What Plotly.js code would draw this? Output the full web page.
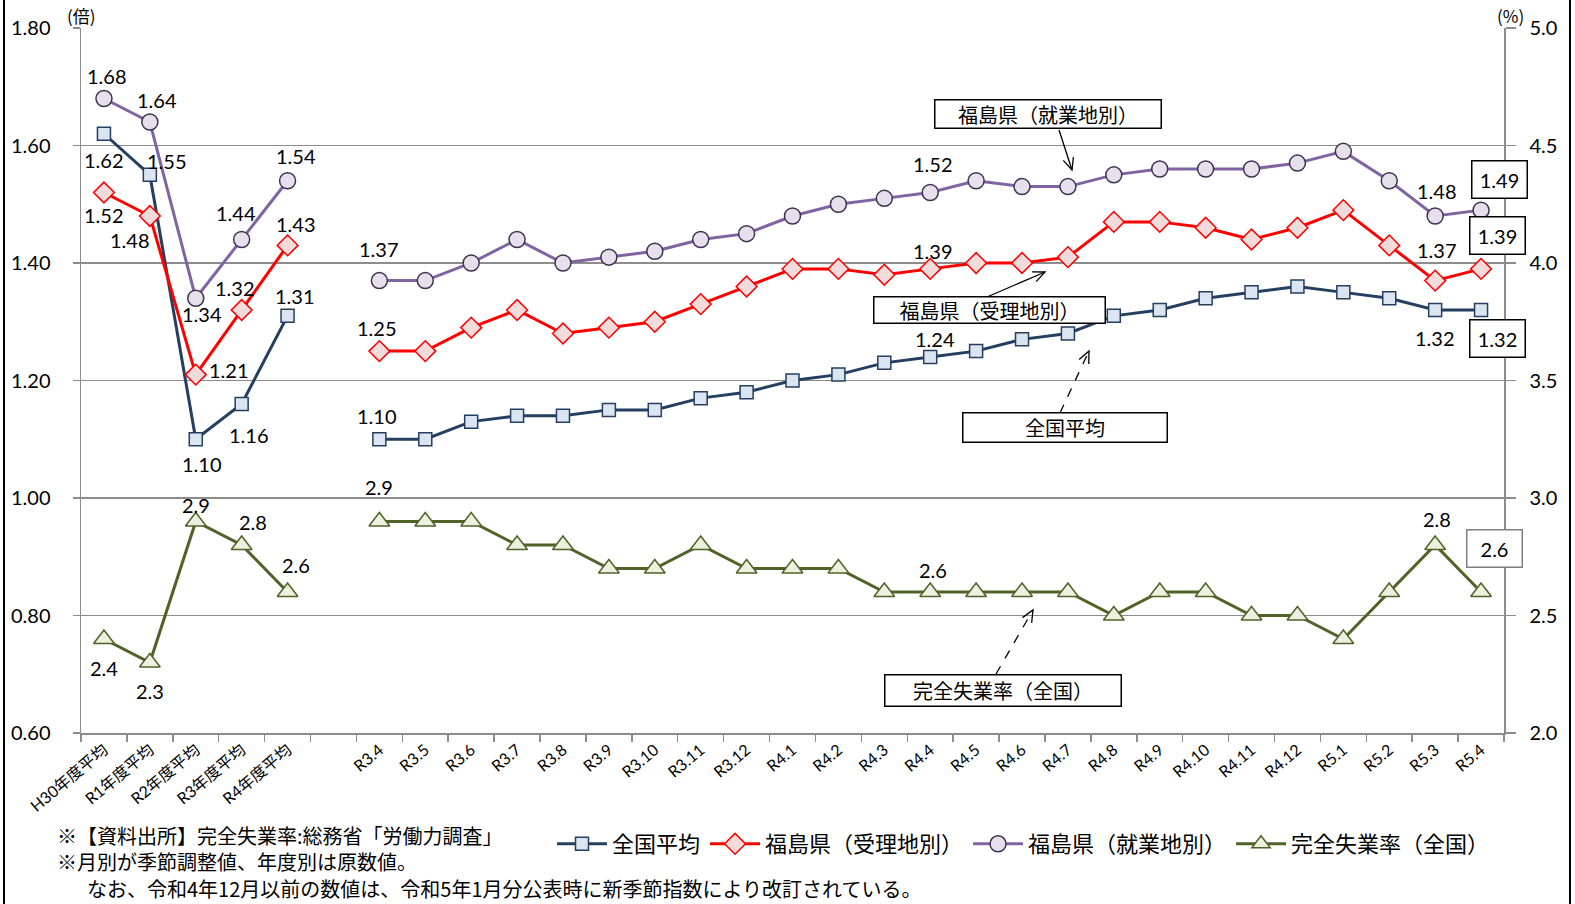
<!DOCTYPE html>
<html>
<head>
<meta charset="utf-8">
<script src="https://cdn.plot.ly/plotly-3.0.1.min.js"></script>
<style>html,body{margin:0;padding:0;background:#fff;}#chart{width:1575px;height:904px;}</style>
</head>
<body>
<div id="chart"></div>
<script>
// ---- data ----
const categories = ['H30年度平均','R1年度平均','R2年度平均','R3年度平均','R4年度平均',' ',
  'R3.4','R3.5','R3.6','R3.7','R3.8','R3.9','R3.10','R3.11','R3.12',
  'R4.1','R4.2','R4.3','R4.4','R4.5','R4.6','R4.7','R4.8','R4.9','R4.10','R4.11','R4.12',
  'R5.1','R5.2','R5.3','R5.4'];
const national = [1.62,1.55,1.10,1.16,1.31,null,
  1.10,1.10,1.13,1.14,1.14,1.15,1.15,1.17,1.18,
  1.20,1.21,1.23,1.24,1.25,1.27,1.28,1.31,1.32,1.34,1.35,1.36,
  1.35,1.34,1.32,1.32];
const fukuJuri = [1.52,1.48,1.21,1.32,1.43,null,
  1.25,1.25,1.29,1.32,1.28,1.29,1.30,1.33,1.36,
  1.39,1.39,1.38,1.39,1.40,1.40,1.41,1.47,1.47,1.46,1.44,1.46,
  1.49,1.43,1.37,1.39];
const fukuShugyo = [1.68,1.64,1.34,1.44,1.54,null,
  1.37,1.37,1.40,1.44,1.40,1.41,1.42,1.44,1.45,
  1.48,1.50,1.51,1.52,1.54,1.53,1.53,1.55,1.56,1.56,1.56,1.57,
  1.59,1.54,1.48,1.49];
const unemp = [2.4,2.3,2.9,2.8,2.6,null,
  2.9,2.9,2.9,2.8,2.8,2.7,2.7,2.8,2.7,
  2.7,2.7,2.6,2.6,2.6,2.6,2.6,2.5,2.6,2.6,2.5,2.5,
  2.4,2.6,2.8,2.6];
const seriesNames = ['全国平均','福島県（受理地別）','福島県（就業地別）','完全失業率（全国）'];

// ---- layout helpers ----
const W = 1575, H = 904, L = 81, R = 71, T = 28, B = 171;
const PW = W - L - R, PH = H - T - B;
const px = v => (v - L) / PW;
const py = v => (H - B - v) / PH;
const FONT = "Lato, 'Noto Sans CJK JP', sans-serif";
const JFONT = "'Noto Sans CJK JP', sans-serif";

const traces = [
  {name: seriesNames[0], x: categories, y: national, type: 'scatter', mode: 'lines+markers',
   line: {color: '#243f60', width: 3}, connectgaps: false,
   marker: {symbol: 'square', size: 13, color: '#dbe5f1', line: {color: '#243f60', width: 1.5}}},
  {name: seriesNames[1], x: categories, y: fukuJuri, type: 'scatter', mode: 'lines+markers',
   line: {color: '#ff0000', width: 3}, connectgaps: false,
   marker: {symbol: 'diamond', size: 16, color: '#f2dcdb', line: {color: '#ff0000', width: 1.5}}},
  {name: seriesNames[2], x: categories, y: fukuShugyo, type: 'scatter', mode: 'lines+markers',
   line: {color: '#8064a2', width: 3}, connectgaps: false,
   marker: {symbol: 'circle', size: 16, color: '#e5e0ec', line: {color: '#3f3151', width: 1.5}}},
  {name: seriesNames[3], x: categories, y: unemp, yaxis: 'y2', type: 'scatter', mode: 'lines+markers',
   line: {color: '#4f6228', width: 3}, connectgaps: false,
   marker: {symbol: 'triangle-up', size: 18, color: '#ebf1de', line: {color: '#4f6228', width: 1.5}}}
];

// label placements: [index, dx, dy, boxed]
const labelSpecs = [
  {vals: fukuShugyo, yref: 'y', dec: 2, pos: [[0,3,-23],[1,7,-22],[2,6,16],[3,-6,-27],[4,8,-25],[6,0,-32],[18,3,-29],[29,2,-25],[30,18,-31,true]]},
  {vals: fukuJuri, yref: 'y', dec: 2, pos: [[0,0,22],[1,-20,24],[2,33,-5],[3,-7,-22],[4,8,-21],[6,-2,-23],[18,3,-18],[29,2,-31],[30,16,-33,true]]},
  {vals: national, yref: 'y', dec: 2, pos: [[0,0,26],[1,17,-14],[2,6,25],[3,7,31],[4,7,-20],[6,-2,-23],[18,5,-18],[29,0,28],[30,16,28,true]]},
  {vals: unemp, yref: 'y2', dec: 1, pos: [[0,0,29],[1,0,28],[2,0,-17],[3,11,-23],[4,8,-27],[6,0,-35],[18,3,-22],[29,2,-26],[30,13,-44,'gray']]}
];
const annotations = [];
labelSpecs.forEach(s => {
  s.pos.forEach(p => {
    const [i, dx, dy, boxed] = p;
    const a = {x: categories[i], y: s.vals[i], xref: 'x', yref: s.yref,
      text: s.vals[i].toFixed(s.dec), showarrow: false, xshift: dx, yshift: -dy,
      font: {family: FONT, size: 20, color: '#000'}};
    if (boxed) {
      a.bordercolor = boxed === 'gray' ? '#7f7f7f' : '#000';
      a.borderwidth = 1.5; a.bgcolor = '#fff'; a.width = 46; a.height = 28; a.borderpad = 4;
    }
    annotations.push(a);
  });
});

// callout boxes
const callouts = [
  {text: '福島県（就業地別）', cx: 1048, cy: 114, w: 227, h: 29},
  {text: '福島県（受理地別）', cx: 989, cy: 310, w: 232, h: 27},
  {text: '全国平均', cx: 1065, cy: 428, w: 205, h: 30},
  {text: '完全失業率（全国）', cx: 1003, cy: 690, w: 237, h: 32}
];
callouts.forEach(c => annotations.push({
  xref: 'paper', yref: 'paper', x: px(c.cx), y: py(c.cy), xanchor: 'center', yanchor: 'middle',
  text: c.text, showarrow: false, width: c.w - 4, height: c.h - 4, borderpad: 1,
  bordercolor: '#000', borderwidth: 1.5, bgcolor: '#fff',
  font: {family: JFONT, size: 20, color: '#000'}
}));

// axis unit labels
annotations.push({xref: 'paper', yref: 'paper', x: px(81), y: py(16), text: '(倍)', showarrow: false,
  xanchor: 'center', yanchor: 'middle', font: {family: JFONT, size: 17, color: '#000'}});
annotations.push({xref: 'paper', yref: 'paper', x: px(1510), y: py(15), text: '(%)', showarrow: false,
  xanchor: 'center', yanchor: 'middle', font: {family: JFONT, size: 17, color: '#000'}});

// footnotes
const notes = [
  ['※【資料出所】完全失業率:総務省「労働力調査」', 55, 836],
  ['※月別が季節調整値、年度別は原数値。', 55, 861],
  ['なお、令和4年12月以前の数値は、令和5年1月分公表時に新季節指数により改訂されている。', 85, 888]
];
notes.forEach(n => annotations.push({xref: 'paper', yref: 'paper', x: px(n[1]), y: py(n[2]),
  xanchor: 'left', yanchor: 'middle', text: n[0], showarrow: false,
  font: {family: JFONT, size: 20, color: '#000'}}));

// arrows as shapes
const shapes = [];
function arrow(x0, y0, x1, y1, dash) {
  shapes.push({type: 'line', xref: 'paper', yref: 'paper', x0: px(x0), y0: py(y0), x1: px(x1), y1: py(y1),
    line: {color: '#000', width: 1.3, dash: dash ? 'dash' : 'solid'}});
  const ang = Math.atan2(y1 - y0, x1 - x0), len = 13, spread = 0.42;
  const a1x = x1 - len * Math.cos(ang - spread), a1y = y1 - len * Math.sin(ang - spread);
  const a2x = x1 - len * Math.cos(ang + spread), a2y = y1 - len * Math.sin(ang + spread);
  shapes.push({type: 'path', xref: 'paper', yref: 'paper',
    path: `M ${px(a1x)} ${py(a1y)} L ${px(x1)} ${py(y1)} L ${px(a2x)} ${py(a2y)}`,
    line: {color: '#000', width: 1.3}});
}
arrow(1059, 130, 1072, 170, false);
arrow(987, 297, 1045, 272, false);
arrow(1060, 413, 1089, 351, true);
arrow(996, 674, 1033, 610, true);

// outer frame (left/right edges)
shapes.push({type: 'line', xref: 'paper', yref: 'paper', x0: px(4), x1: px(4), y0: py(0), y1: py(904), line: {color: '#000', width: 2}});
shapes.push({type: 'line', xref: 'paper', yref: 'paper', x0: px(1570), x1: px(1570), y0: py(0), y1: py(904), line: {color: '#000', width: 2}});

const layout = {
  width: W, height: H,
  margin: {l: L, r: R, t: T, b: B, pad: 0},
  paper_bgcolor: '#fff', plot_bgcolor: '#fff',
  font: {family: FONT, color: '#000'},
  showlegend: true,
  legend: {orientation: 'h', x: px(552), xanchor: 'left', y: py(844), yanchor: 'middle',
    itemwidth: 50,
    font: {family: JFONT, size: 22, color: '#000'}, bgcolor: 'rgba(0,0,0,0)', traceorder: 'normal'},
  xaxis: {type: 'category', categoryorder: 'array', categoryarray: categories,
    range: [-0.5, categories.length - 0.5], fixedrange: true,
    showline: true, linecolor: '#8c8c8c', linewidth: 1.5,
    ticks: 'outside', tickson: 'boundaries', ticklen: 7, tickcolor: '#8c8c8c', tickwidth: 1.5,
    tickangle: -40, tickfont: {family: FONT, size: 16, color: '#000'}, showgrid: false, zeroline: false},
  yaxis: {range: [0.6, 1.8], dtick: 0.2, tick0: 0.6, tickformat: '.2f',
    showline: true, linecolor: '#8c8c8c', linewidth: 1.5,
    ticks: 'outside', ticklen: 7, tickcolor: '#8c8c8c', tickwidth: 1.5,
    showgrid: true, gridcolor: '#8c8c8c', gridwidth: 1.5, zeroline: false,
    ticklabelstandoff: 18, tickfont: {family: FONT, size: 20, color: '#000'}},
  yaxis2: {range: [2.0, 5.0], dtick: 0.5, tick0: 2.0, tickformat: '.1f', overlaying: 'y', side: 'right',
    showline: true, linecolor: '#8c8c8c', linewidth: 1.5,
    ticks: 'outside', ticklen: 10, tickcolor: '#8c8c8c', tickwidth: 1.5,
    showgrid: false, zeroline: false, ticklabelstandoff: 10,
    tickfont: {family: FONT, size: 20, color: '#000'}},
  annotations: annotations,
  shapes: shapes
};

Plotly.newPlot('chart', traces, layout, {displayModeBar: false, staticPlot: true});
</script>
</body>
</html>
